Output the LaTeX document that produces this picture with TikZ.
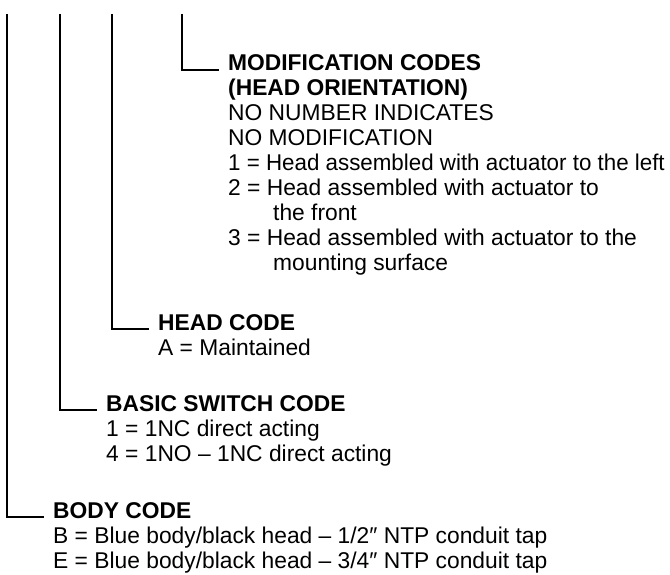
\documentclass[tikz,border=0pt]{standalone}
\usepackage{fontspec}
\setmainfont{Liberation Sans}
\newcommand{\blocklines}[1]{\begin{tabular}[t]{@{}l@{}}#1\end{tabular}}
\begin{document}
\begin{tikzpicture}[x=1pt,y=-1pt,
  every node/.style={inner sep=0pt, font=\fontsize{22.8}{25}\selectfont},
  lead/.style={draw, line width=1.8pt, line cap=butt, line join=miter},
  block/.style={anchor=base west}]
\useasboundingbox (0,0) rectangle (670,575);
% tops of the leader lines
\coordinate (t1) at (7,14);
\coordinate (t2) at (60,14);
\coordinate (t3) at (112,14);
\coordinate (t4) at (182,14);
% text blocks
\node[block] (mod) at (228,71) {\blocklines{\textbf{MODIFICATION CODES}\\
  \textbf{(HEAD ORIENTATION)}\\
  NO NUMBER INDICATES\\
  NO MODIFICATION\\
  \scalebox{0.98}[1]{1 = Head assembled with actuator to the left}\\
  2 = Head assembled with actuator to\\
  \hspace*{45pt}the front\\
  3 = Head assembled with actuator to the\\
  \hspace*{45pt}mounting surface}};
\node[block] (head) at (158,330) {\blocklines{\textbf{HEAD CODE}\\
  A = Maintained}};
\node[block] (basic) at (106,411) {\blocklines{\textbf{BASIC SWITCH CODE}\\
  1 = 1NC direct acting\\
  4 = 1NO – 1NC direct acting}};
\node[block] (body) at (53,518) {\blocklines{\textbf{BODY CODE}\\
  B = Blue body/black head – 1/2″ NTP conduit tap\\
  E = Blue body/black head – 3/4″ NTP conduit tap}};
% leaders
\draw[lead] (t4) |- ([xshift=-9pt,yshift=1pt]mod.base west);
\draw[lead] (t3) |- ([xshift=-9pt,yshift=1pt]head.base west);
\draw[lead] (t2) |- ([xshift=-9pt,yshift=1pt]basic.base west);
\draw[lead] (t1) |- ([xshift=-9pt,yshift=1pt]body.base west);
\end{tikzpicture}
\end{document}
